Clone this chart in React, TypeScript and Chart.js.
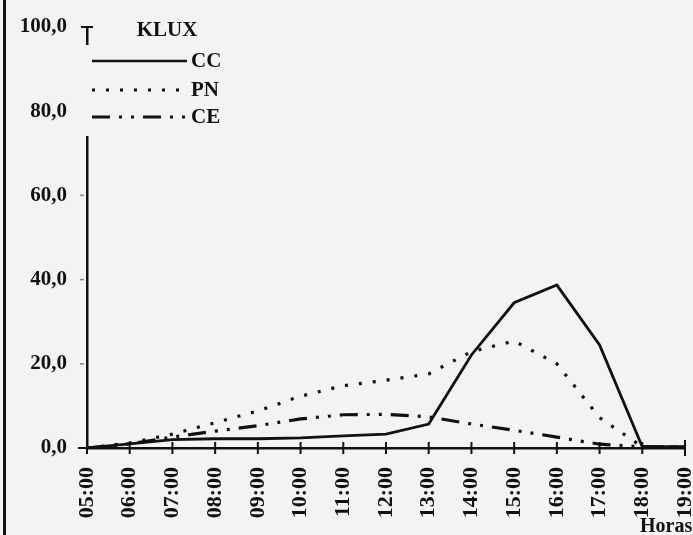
import React, { useEffect, useRef } from "react";
import { Chart, registerables } from "chart.js";

Chart.register(...registerables);

const hours = ["05:00", "06:00", "07:00", "08:00", "09:00", "10:00", "11:00", "12:00", "13:00", "14:00", "15:00", "16:00", "17:00", "18:00", "19:00"];
const ccValues = [0, 1.0, 2.0, 2.2, 2.2, 2.4, 2.9, 3.3, 5.7, 22.1, 34.5, 38.7, 24.5, 0.3, 0.3];
const pnValues = [0, 1.2, 3.3, 6.0, 8.8, 12.3, 14.8, 16.1, 17.6, 22.9, 25.4, 20.0, 7.2, 0.3, 0.3];
const ceValues = [0, 1.0, 2.6, 4.0, 5.3, 6.9, 7.9, 8.0, 7.4, 5.7, 4.2, 2.6, 0.9, 0.3, 0.3];
const yTicks = [0, 20, 40, 60, 80, 100];
const legendTitle = "KLUX";
const seriesNames = ["CC", "PN", "CE"];
const xTitle = "Horas";

const BG = "#f3f3f3";
const INK = "#111111";
const FONT = '"Liberation Serif", "Times New Roman", serif';
const DOT_DASH = [3, 11];
const DASH_DOT = [18, 9, 3, 9, 3, 9];

const decor = {
  id: "decor",
  beforeDraw(chart: any) {
    const { ctx, width, height } = chart;
    ctx.save();
    ctx.fillStyle = BG;
    ctx.fillRect(0, 0, width, height);
    ctx.restore();
  },
  afterDraw(chart: any) {
    const { ctx, chartArea: a, scales } = chart;
    const x = scales.x;
    const y = scales.y;
    ctx.save();
    ctx.strokeStyle = INK;
    ctx.lineCap = "butt";
    hours.forEach((_h, i) => {
      const px = x.getPixelForValue(i);
      const last = i === hours.length - 1;
      const len = last ? 8 : 6;
      ctx.lineWidth = 2;
      ctx.beginPath();
      ctx.moveTo(px, a.bottom - len);
      ctx.lineTo(px, a.bottom + len);
      ctx.stroke();
    });
    yTicks.forEach((v) => {
      const py = y.getPixelForValue(v);
      ctx.beginPath();
      if (v === 0) {
        ctx.strokeStyle = INK;
        ctx.lineWidth = 2;
        ctx.moveTo(a.left - 9, py);
        ctx.lineTo(a.left, py);
      } else if (v === 100) {
        ctx.strokeStyle = INK;
        ctx.lineWidth = 2;
        ctx.moveTo(a.left - 6, py);
        ctx.lineTo(a.left + 6, py);
      } else {
        ctx.strokeStyle = "#888";
        ctx.lineWidth = 1.5;
        ctx.moveTo(a.left - 7, py);
        ctx.lineTo(a.left - 3, py);
      }
      ctx.stroke();
    });
    ctx.fillStyle = BG;
    ctx.fillRect(a.left - 8, 45, 165, 91);
    ctx.fillStyle = INK;
    ctx.strokeStyle = INK;
    ctx.font = `bold 21px ${FONT}`;
    ctx.textBaseline = "middle";
    ctx.textAlign = "center";
    ctx.fillText(legendTitle, 167, 31);
    ctx.textAlign = "left";
    const rows = [
      { name: seriesNames[0], y: 61, dash: [] as number[], w: 2.5 },
      { name: seriesNames[1], y: 90, dash: DOT_DASH, w: 3 },
      { name: seriesNames[2], y: 117, dash: DASH_DOT, w: 3 },
    ];
    rows.forEach((r) => {
      ctx.setLineDash(r.dash);
      ctx.lineWidth = r.w;
      ctx.beginPath();
      ctx.moveTo(92, r.y);
      ctx.lineTo(187, r.y);
      ctx.stroke();
      ctx.setLineDash([]);
      ctx.fillText(r.name, 191, r.y + 1);
    });
    ctx.font = `bold 20px ${FONT}`;
    ctx.textBaseline = "alphabetic";
    ctx.fillText(xTitle, 640, 532);
    ctx.fillRect(3, 0, 3, chart.height);
    ctx.restore();
  },
};

export default function App() {
  const ref = useRef<HTMLCanvasElement | null>(null);
  useEffect(() => {
    if (!ref.current) return;
    const chart = new Chart(ref.current, {
      type: "line",
      data: {
        labels: hours,
        datasets: [
          { label: seriesNames[0], data: ccValues, borderColor: INK, borderWidth: 2.8, pointRadius: 0, tension: 0, fill: false },
          { label: seriesNames[1], data: pnValues, borderColor: INK, borderWidth: 3.2, borderDash: DOT_DASH, pointRadius: 0, tension: 0, fill: false },
          { label: seriesNames[2], data: ceValues, borderColor: INK, borderWidth: 3.2, borderDash: DASH_DOT, pointRadius: 0, tension: 0, fill: false },
        ],
      },
      options: {
        animation: false,
        responsive: false,
        devicePixelRatio: 1,
        layout: { padding: { top: 27, right: 8, left: 0, bottom: 0 } },
        plugins: { legend: { display: false }, tooltip: { enabled: false } },
        scales: {
          x: {
            type: "category",
            offset: false,
            grid: { display: true, drawOnChartArea: false, drawTicks: false, color: "rgba(0,0,0,0)" },
            border: { display: true, color: INK, width: 2.5 },
            ticks: {
              autoSkip: false,
              minRotation: 90,
              maxRotation: 90,
              padding: 19,
              color: INK,
              font: { family: FONT, size: 22, weight: "bold" },
            },
            afterFit: (s: any) => {
              s.height = 87;
              s.paddingLeft = 0;
              s.paddingRight = 0;
            },
          },
          y: {
            min: 0,
            max: 100,
            afterBuildTicks: (s: any) => {
              s.ticks = yTicks.map((v) => ({ value: v }));
            },
            grid: { display: true, drawOnChartArea: false, drawTicks: false, color: "rgba(0,0,0,0)" },
            border: { display: true, color: INK, width: 2.5 },
            ticks: {
              padding: 20,
              color: INK,
              font: { family: FONT, size: 21, weight: "bold" },
              callback: (v: any) => Number(v).toFixed(1).replace(".", ","),
            },
            afterFit: (s: any) => {
              s.width = 87;
              s.paddingTop = 0;
              s.paddingBottom = 0;
            },
          },
        },
      },
      plugins: [decor],
    });
    return () => chart.destroy();
  }, []);
  return (
    <div style={{ position: "fixed", left: 0, top: 0, width: 693, height: 535, background: BG }}>
      <canvas ref={ref} width={693} height={535} style={{ display: "block" }} />
    </div>
  );
}
